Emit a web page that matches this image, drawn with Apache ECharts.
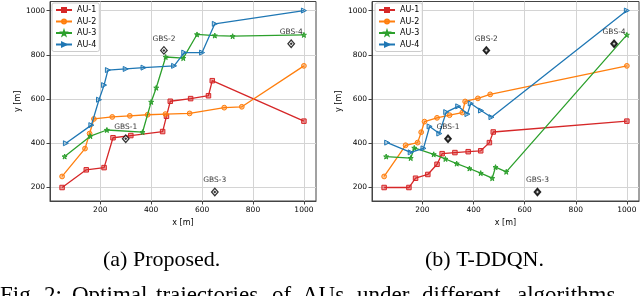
<!DOCTYPE html>
<html>
<head>
<meta charset="utf-8">
<script src="https://cdn.jsdelivr.net/npm/echarts@6/dist/echarts.min.js"></script>
<style>
html,body{margin:0;padding:0;background:#fff;}
#c{width:640px;height:296px;}
</style>
</head>
<body>
<div id="c"></div>
<script>
const auNames = ['AU-1','AU-2','AU-3','AU-4'];
const xTicks = [200,400,600,800,1000];
const yTicks = [200,400,600,800,1000];

// (a) Proposed
const proposedAU1 = [[50,200],[145,280],[215,290],[250,425],[320,435],[445,453],[460,522],[475,590],[555,602],[625,615],[640,683],[1000,500]];
const proposedAU2 = [[50,250],[140,376],[158,444],[175,510],[247,519],[316,524],[386,529],[456,532],[551,535],[687,561],[756,565],[1000,750]];
const proposedAU3 = [[60,340],[161,432],[226,460],[366,450],[400,587],[420,651],[457,790],[526,785],[580,892],[650,887],[720,884],[1000,890]];
const proposedAU4 = [[65,400],[165,482],[195,597],[215,663],[230,731],[300,736],[370,742],[490,750],[530,810],[600,810],[650,940],[1000,1000]];

// (b) T-DDQN
const tddqnAU1 = [[50,200],[147,200],[173,242],[221,259],[257,305],[277,353],[327,358],[379,362],[428,366],[462,403],[477,451],[1000,500]];
const tddqnAU2 = [[50,250],[134,391],[181,403],[195,450],[208,498],[257,515],[306,527],[356,539],[367,589],[417,603],[465,621],[1000,750]];
const tddqnAU3 = [[58,340],[154,333],[168,379],[244,350],[290,329],[334,308],[384,286],[428,265],[473,242],[486,292],[528,271],[1000,890]];
const tddqnAU4 = [[62,403],[154,359],[204,377],[228,476],[266,444],[293,541],[340,567],[376,532],[389,580],[429,548],[470,518],[1000,1000]];

// Ground base stations
const gbsNames = ['GBS-1','GBS-2','GBS-3','GBS-4'];
const gbsX = [300,450,650,950];
const gbsY = [420,820,180,850];

const captions = ['(a) Proposed.','(b) T-DDQN.'];
const figWords = ['Fig.','2:','Optimal','trajectories','of','AUs','under','different','algorithms'];

const colors = ['#d62728','#ff7f0e','#2ca02c','#1f77b4'];
const fills = ['rgba(214,39,40,0.45)','rgba(255,127,14,0.45)','rgba(44,160,44,0.7)','rgba(31,119,180,0.3)'];
const starPath = 'path://M0,-10 L2.35,-3.24 L9.51,-3.09 L3.8,1.24 L5.88,8.09 L0,4 L-5.88,8.09 L-3.8,1.24 L-9.51,-3.09 L-2.35,-3.24 Z';
const symbols = ['rect','circle',starPath,'triangle'];
const symSizes = [4.5,4.8,5,5];
const symRot = [0,0,0,-90];

const font = 'DejaVu Sans';
const gridsPos = [{left:50, top:1.5, width:266, height:199.5},{left:372, top:1.5, width:267, height:199.5}];
const fmt = v => String(v);

function mkX(i){
  return {
    type:'value', gridIndex:i, min:2.5, max:1047.5,
    name:'x [m]', nameLocation:'middle', nameGap:15,
    nameTextStyle:{fontFamily:font, fontSize:8, color:'#000'},
    axisLine:{show:true, lineStyle:{color:'#444', width:1}},
    axisTick:{show:true, length:3.5, inside:false, customValues:xTicks, lineStyle:{color:'#444'}},
    axisLabel:{customValues:xTicks, formatter:fmt, fontFamily:font, fontSize:7.5, color:'#000', margin:5},
    splitLine:{show:true, lineStyle:{color:'#d4d4d4', width:1}}
  };
}
function mkY(i){
  return {
    type:'value', gridIndex:i, min:139, max:1041,
    name:'y [m]', nameLocation:'middle', nameGap:i===0?27:29, nameRotate:90,
    nameTextStyle:{fontFamily:font, fontSize:8, color:'#000'},
    axisLine:{show:true, lineStyle:{color:'#444', width:1}},
    axisTick:{show:true, length:3.5, customValues:yTicks, lineStyle:{color:'#444'}},
    axisLabel:{customValues:yTicks, formatter:fmt, fontFamily:font, fontSize:7.5, color:'#000', margin:5},
    splitLine:{show:true, lineStyle:{color:'#d4d4d4', width:1}}
  };
}

const allData = [[proposedAU1,proposedAU2,proposedAU3,proposedAU4],[tddqnAU1,tddqnAU2,tddqnAU3,tddqnAU4]];
const series = [];
for (let g=0; g<2; g++){
  for (let k=0; k<4; k++){
    series.push({
      name:auNames[k], type:'line', xAxisIndex:g, yAxisIndex:g,
      data:allData[g][k], symbol:symbols[k], symbolSize:symSizes[k], symbolRotate:symRot[k],
      showAllSymbol:true, animation:false,
      lineStyle:{color:colors[k], width:1.3},
      itemStyle:{color:fills[k], borderColor:colors[k], borderWidth:1},
      z:3+k
    });
  }
  const gbsData = gbsX.map((x,i)=>({value:[x,gbsY[i]], name:gbsNames[i]}));
  series.push({
    name:'GBS', type:'scatter', xAxisIndex:g, yAxisIndex:g, data:gbsData,
    symbol:'diamond', symbolSize:[6.5,7.5], animation:false,
    itemStyle:{color: g===0 ? '#fff' : '#111', borderColor:'#000', borderWidth:1.3},
    label:{show:true, position:'top', distance:3, formatter:p=>p.name, fontFamily:font, fontSize:7.5, color:'#000'},
    z:10
  });
  series.push({
    name:'GBSc', type:'scatter', xAxisIndex:g, yAxisIndex:g, data:gbsX.map((x,i)=>[x,gbsY[i]]),
    symbol:'diamond', symbolSize:g===0?3:2.5, animation:false,
    itemStyle:{color: g===0 ? '#000' : '#fff'}, z:11, silent:true
  });
}

function mkLegend(left){
  return {
    data:auNames, orient:'vertical', left:left, top:3,
    itemWidth:16, itemHeight:5, itemGap:3.5,
    padding:[3,3,3,3],
    backgroundColor:'rgba(255,255,255,0.85)', borderColor:'#ccc', borderWidth:1, borderRadius:2,
    textStyle:{fontFamily:font, fontSize:8, color:'#000', lineHeight:8},
    selectedMode:false
  };
}

// Justified first caption line: word start positions (layout only)
const figWordX = [0,44,72,156,272,302,357,422,517];
const graphics = [
  {type:'text', left:103, top:249, style:{text:captions[0], font:'22px "Liberation Serif"', fill:'#000'}},
  {type:'text', left:425, top:249, style:{text:captions[1], font:'22px "Liberation Serif"', fill:'#000'}}
];
figWords.forEach((w,i)=>graphics.push({type:'text', x:figWordX[i], y:284, style:{text:w, font:'23px "Liberation Serif"', fill:'#000'}}));

const chart = echarts.init(document.getElementById('c'), null, {renderer:'canvas'});
chart.setOption({
  animation:false,
  backgroundColor:'#fff',
  grid:gridsPos.map(p=>Object.assign({show:true, borderColor:'#444', borderWidth:1, backgroundColor:'transparent', containLabel:false}, p)),
  xAxis:[mkX(0), mkX(1)],
  yAxis:[mkY(0), mkY(1)],
  legend:[mkLegend(52), mkLegend(375)],
  series:series,
  graphic:graphics
});
</script>
</body>
</html>
